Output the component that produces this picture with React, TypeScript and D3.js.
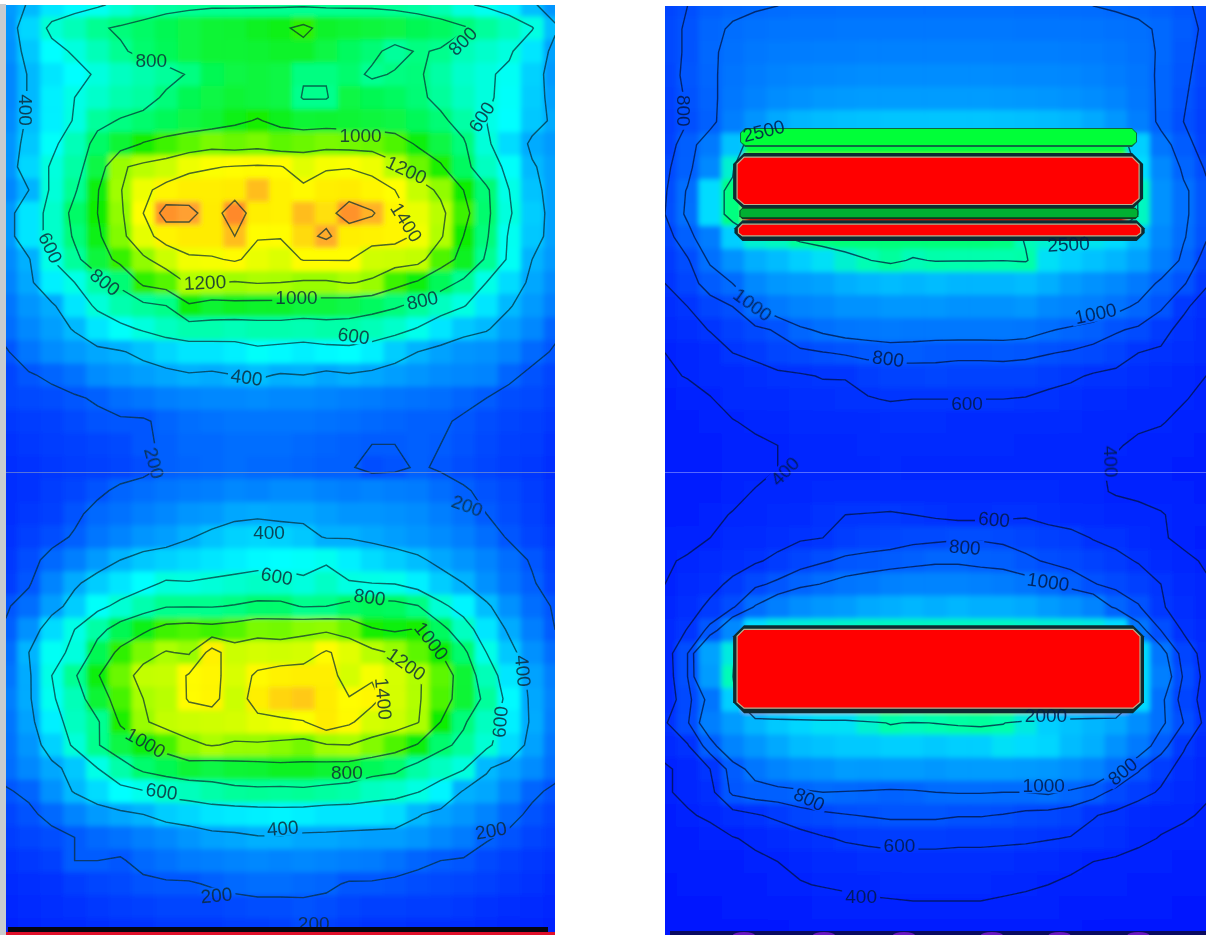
import React from "react";
import * as d3 from "d3";

// Counts are stored in tens (34 = 340 counts). Rows run top to bottom, columns left to right.
const COLS = 25;
const ROWS = 41;
const UNIT = 10;

const leftRows: number[][] = [
  [34,41,50,54,58,64,71,75,77,78,78,78,78,78,78,78,78,77,75,71,62,58,52,42,33],
  [33,47,64,70,78,82,85,88,90,92,93,95,97,104,94,92,91,90,88,86,82,76,70,61,42],
  [32,44,55,62,70,78,84,87,90,92,92,93,94,94,90,86,83,76,81,79,70,66,62,50,36],
  [30,41,50,55,62,68,72,76,81,88,90,91,90,81,81,84,78,81,82,74,66,62,57,46,34],
  [30,41,52,60,66,72,75,82,88,90,92,91,90,79,79,90,88,86,83,76,68,62,56,45,36],
  [31,42,52,61,76,81,84,87,90,92,97,101,96,92,93,92,91,90,87,83,74,60,55,44,38],
  [33,44,56,70,85,92,101,106,110,114,112,114,110,112,114,113,112,108,98,90,82,63,48,38,34],
  [33,47,62,74,90,118,124,128,136,139,141,142,141,133,138,139,136,124,112,102,86,68,56,41,36],
  [30,40,63,78,99,119,136,146,150,150,152,160,148,143,150,152,146,140,127,117,100,83,60,43,36],
  [34,50,66,85,100,117,140,168,165,152,170,150,148,160,154,168,162,146,135,124,106,84,62,45,36],
  [34,50,66,82,97,115,134,147,152,152,160,141,141,155,163,150,148,146,137,122,100,82,58,44,36],
  [31,39,60,76,91,105,117,128,137,138,142,135,132,141,141,141,129,128,126,108,95,78,57,40,34],
  [29,37,52,60,73,83,104,109,122,121,119,121,120,118,118,121,118,106,98,87,77,60,48,37,31],
  [26,33,38,50,63,72,76,80,98,93,95,94,94,91,91,89,86,82,76,68,61,50,41,34,28],
  [24,30,35,41,50,56,62,68,72,72,70,72,72,71,73,73,70,66,59,50,44,41,35,30,22],
  [19,26,31,34,37,39,43,47,50,50,52,56,54,52,54,55,52,45,40,36,33,32,29,23,19],
  [15,19,22,25,31,33,35,37,39,38,40,42,39,40,37,39,37,35,33,31,30,29,22,18,15],
  [15,16,17,19,21,24,26,28,29,30,30,31,30,30,29,28,27,26,25,24,22,20,17,16,14],
  [12,13,14,16,18,19,19,22,24,25,26,26,26,26,25,24,23,22,21,21,19,17,15,14,12],
  [11,12,13,14,15,16,19,21,23,23,24,24,24,23,22,21,20,20,21,20,18,16,14,13,11],
  [10,11,12,13,14,15,17,21,22,23,24,23,23,22,21,21,17,18,21,19,17,15,13,12,10],
  [10,11,13,15,18,22,24,26,27,28,30,29,31,31,29,28,29,28,27,24,21,18,16,13,11],
  [10,12,14,18,23,25,28,30,33,34,37,38,37,37,35,33,33,32,31,28,25,20,17,14,11],
  [11,14,17,21,26,29,33,35,39,43,46,47,46,44,39,39,37,35,33,31,28,24,19,15,12],
  [12,17,23,28,34,40,44,46,48,50,52,54,55,56,58,52,48,45,42,37,33,29,24,19,14],
  [13,19,29,38,45,50,55,62,61,63,65,67,66,62,67,61,60,59,52,45,40,32,26,21,15],
  [19,24,35,45,56,64,72,79,79,79,81,84,84,79,80,85,87,86,81,64,53,42,32,24,19],
  [21,32,48,60,74,88,97,106,108,106,109,114,113,116,117,112,101,98,101,86,68,50,38,28,20],
  [24,40,57,62,88,104,114,121,118,148,128,130,129,130,142,133,124,118,110,100,84,60,44,32,24],
  [26,38,60,78,99,112,126,127,142,146,131,143,148,150,150,130,138,130,122,110,92,70,50,36,28],
  [28,38,58,70,92,107,120,124,142,146,128,150,156,158,152,141,145,130,122,108,92,76,54,37,29],
  [26,36,52,68,78,102,118,126,128,129,130,134,136,139,152,143,130,128,121,100,82,68,52,38,28],
  [25,33,46,63,79,90,99,107,117,121,118,118,116,113,119,120,115,108,99,84,76,64,48,36,26],
  [24,30,37,44,60,73,84,88,92,90,92,93,95,95,93,92,87,84,74,68,62,41,36,31,24],
  [19,22,32,41,48,55,59,66,69,73,76,77,76,77,75,73,68,66,61,53,39,37,30,22,18],
  [15,18,23,29,34,37,40,45,47,50,51,52,53,52,50,50,50,48,41,36,33,29,23,18,15],
  [13,15,17,20,23,25,28,30,33,36,37,39,39,37,37,36,35,35,33,30,27,21,18,15,13],
  [11,12,14,20,20,19,23,25,27,28,29,30,29,30,29,28,27,25,22,20,19,16,14,12,11],
  [9,10,11,13,15,16,18,19,19,21,23,24,24,23,22,19,19,18,17,16,15,14,12,11,9],
  [8,9,10,11,12,13,14,15,15,15,16,17,17,18,17,15,14,14,13,13,12,11,10,9,8],
  [7,8,9,9,10,11,11,12,12,12,13,13,14,16,14,12,11,11,10,10,10,9,8,8,7],
];

const rightRows: number[][] = [
  [72,80,90,96,98,100,102,102,103,103,103,103,103,103,103,103,102,102,101,100,98,96,92,84,74],
  [74,82,96,102,106,108,110,110,112,112,112,112,112,112,112,112,110,110,110,108,106,103,98,88,76],
  [74,82,97,105,112,116,118,120,120,122,122,122,122,122,122,120,120,120,118,116,112,106,98,86,74],
  [72,84,96,108,118,124,128,130,132,134,134,134,134,134,134,132,130,130,128,124,118,110,96,84,72],
  [70,82,94,112,124,134,140,146,148,150,150,150,150,150,150,148,146,144,140,134,126,112,96,82,70],
  [68,80,92,120,142,160,170,175,178,180,182,182,182,182,182,180,178,175,170,160,145,120,94,80,68],
  [70,90,115,180,320,320,320,320,320,320,320,320,320,320,320,320,320,320,320,320,320,190,110,88,70],
  [76,92,130,230,600,600,600,600,600,600,600,600,600,600,600,600,600,600,600,600,600,200,130,95,78],
  [78,102,200,280,600,600,600,600,600,600,600,600,600,600,600,600,600,600,600,600,600,240,140,105,84],
  [80,104,200,280,600,600,600,600,600,600,600,600,600,600,600,600,600,600,600,600,600,240,140,105,84],
  [72,92,118,190,230,240,265,280,285,285,285,285,285,285,285,280,245,230,220,210,200,175,130,102,82],
  [64,78,103,140,165,175,190,205,230,248,262,245,253,252,252,251,255,205,190,180,170,155,120,95,72],
  [60,72,88,100,130,145,150,155,165,170,175,170,175,170,170,170,175,165,150,140,130,115,95,82,62],
  [54,60,72,80,100,115,125,130,140,140,145,145,145,140,140,140,145,130,125,120,107,96,83,63,52],
  [46,52,61,68,76,82,96,104,110,112,115,113,112,112,112,112,110,102,96,90,82,77,65,55,48],
  [40,44,50,60,64,72,76,79,82,86,88,88,86,85,85,86,84,81,78,74,70,60,58,52,46],
  [37,41,46,50,53,56,58,61,61,66,70,70,72,70,70,70,70,67,63,58,55,52,48,44,40],
  [30,33,39,46,48,50,52,54,55,59,61,60,60,60,60,60,59,55,53,50,47,45,43,41,36],
  [26,28,32,39,43,45,47,48,50,50,51,51,51,50,50,50,49,47,46,45,44,42,41,36,32],
  [24,26,29,33,37,40,42,44,45,46,46,46,46,46,46,46,45,44,43,42,41,38,35,31,28],
  [24,26,28,31,35,40,43,44,44,45,46,45,45,45,45,45,44,44,43,42,38,35,33,29,27],
  [25,27,30,35,41,44,45,46,47,47,48,47,47,47,47,47,47,47,45,42,39,37,35,31,28],
  [28,30,36,41,45,47,50,55,60,61,62,60,57,54,54,56,58,54,50,47,45,44,41,36,31],
  [32,35,40,46,50,54,58,60,66,70,72,75,76,78,78,76,72,68,66,59,56,50,42,36,30],
  [38,42,46,52,58,64,72,78,84,86,88,92,96,96,92,90,84,78,74,70,64,59,50,44,38],
  [40,46,54,64,76,84,94,101,108,114,122,125,125,125,122,118,110,100,90,81,75,68,60,50,42],
  [44,52,64,78,102,120,135,145,150,160,165,170,165,170,165,165,160,150,140,125,95,82,62,52,44],
  [48,61,86,130,200,220,225,230,235,240,240,240,240,240,240,240,235,230,225,220,200,110,80,58,46],
  [50,80,155,220,600,600,600,600,600,600,600,600,600,600,600,600,600,600,600,600,600,200,110,72,52],
  [48,80,150,245,600,600,600,600,600,600,600,600,600,600,600,600,600,600,600,600,600,200,120,78,54],
  [46,74,108,190,600,600,600,600,600,600,600,600,600,600,600,600,600,600,600,600,600,200,105,72,52],
  [58,78,120,150,170,185,195,205,205,230,255,245,252,258,262,253,220,190,180,170,160,135,105,80,55],
  [46,58,90,125,145,160,175,180,185,185,190,190,185,190,190,205,200,195,175,165,140,115,88,62,46],
  [38,44,60,88,110,125,135,140,150,148,150,150,145,150,150,150,148,145,135,125,104,82,66,54,42],
  [38,44,54,84,90,92,95,100,98,96,93,95,100,101,101,100,100,103,96,88,74,66,58,50,42],
  [28,38,43,52,58,64,72,76,79,81,83,83,83,81,81,79,75,73,70,61,56,50,45,42,38],
  [24,28,33,39,43,47,52,58,62,64,66,66,66,65,65,64,63,61,59,55,51,44,39,36,33],
  [20,23,26,30,37,40,44,47,50,52,53,53,53,52,52,51,50,48,44,40,37,34,31,28,25],
  [17,19,21,24,28,33,39,41,43,45,46,47,47,47,47,45,43,40,37,34,31,28,26,24,21],
  [15,16,17,19,21,24,28,31,33,35,36,37,37,37,37,35,33,31,28,25,22,20,19,18,16],
  [12,13,14,15,16,18,20,22,24,25,26,26,26,26,26,25,24,22,20,18,17,16,15,14,13],
];

const leftLevels = [200, 400, 600, 800, 1000, 1200, 1400, 1600];
const rightLevels = [400, 600, 800, 1000, 2500];

const leftStops = [0, 200, 400, 550, 800, 1000, 1200, 1400, 1520, 1650, 2000];
const leftColors = ["#0000ff", "#005cff", "#00b4ff", "#00ffff", "#00ff88", "#10ee00", "#a8ff00", "#ffff00", "#ffec00", "#ffa030", "#ff0000"];
const rightStops = [0, 400, 600, 800, 1000, 1500, 2000, 2500, 3200, 5000];
const rightColors = ["#0010ff", "#0024ff", "#0034ff", "#0050ff", "#006cff", "#009cff", "#00dcff", "#00ffb0", "#00ff40", "#ff0000"];

type Label = [string, number, number, number];
// text, column position, row position, rotation
const leftLabels: Label[] = [
  ["800", 6.85, 2.88, 0], ["400", 1.37, 5.04, 90], ["800", 20.46, 2.06, -45], ["600", 21.29, 5.34, -58],
  ["600", 2.44, 11.0, 65], ["1000", 16.0, 6.16, 0], ["1200", 18.0, 7.63, 25], ["1400", 18.0, 9.9, 58],
  ["1200", 9.2, 12.5, -3], ["800", 4.83, 12.48, 38], ["1000", 13.2, 13.17, 0], ["800", 18.7, 13.27, -12],
  ["600", 15.7, 14.81, 8], ["400", 11.02, 16.6, 8], ["200", 7.0, 20.3, 75], ["200", 20.67, 22.13, 20],
  ["400", 12.0, 23.33, 0], ["600", 12.34, 25.2, 10], ["800", 16.4, 26.1, 8], ["1000", 19.1, 28.0, 52],
  ["1200", 18.0, 29.0, 35], ["1400", 17.0, 30.5, 85], ["400", 23.1, 29.3, 85], ["600", 22.1, 31.5, -85],
  ["1000", 6.6, 32.4, 30], ["800", 15.4, 33.7, 0], ["600", 7.3, 34.5, 8], ["400", 12.6, 36.1, -5],
  ["200", 9.7, 39.0, -5], ["200", 21.7, 36.2, -10], ["200", 13.95, 40.2, 0],
];
const rightLabels: Label[] = [
  ["800", 1.33, 5.03, 90], ["2500", 4.88, 5.9, -14], ["2500", 18.4, 10.8, -3], ["1000", 4.4, 13.4, 36],
  ["1000", 19.6, 13.8, -12], ["800", 10.4, 15.75, 8], ["600", 13.9, 17.7, 0], ["400", 5.8, 20.6, -45],
  ["400", 20.3, 20.2, 88], ["600", 15.1, 22.7, 5], ["800", 13.8, 23.9, 5], ["1000", 17.5, 25.4, 8],
  ["2000", 17.4, 31.2, 0], ["1000", 17.3, 34.2, 0], ["800", 6.9, 34.8, 25], ["800", 20.8, 33.6, -40],
  ["600", 10.9, 36.8, 0], ["400", 9.2, 39.0, 0],
];

type Block = { x0: number; x1: number; y0: number; y1: number; fill: string; edge: string; cut: number };
// extents in the same column/row units as the grids
const rightBlocks: Block[] = [
  { x0: 3.83, x1: 21.44, y0: 5.78, y1: 6.6, fill: "#00ff38", edge: "#0a6a40", cut: 5 },
  { x0: 3.52, x1: 21.71, y0: 6.86, y1: 9.3, fill: "#ff0000", edge: "#0a2c30", cut: 11 },
  { x0: 3.8, x1: 21.5, y0: 9.22, y1: 9.72, fill: "#00b030", edge: "#0a3a20", cut: 3 },
  { x0: 3.58, x1: 21.78, y0: 9.76, y1: 10.66, fill: "#ff0000", edge: "#0a2c30", cut: 8 },
  { x0: 3.52, x1: 21.75, y0: 27.28, y1: 31.08, fill: "#ff0000", edge: "#0a2c30", cut: 11 },
];

// centres of the purple bumps along the lower edge of the right panel, in grid columns
const rightEdgeBumps = [4.0, 7.55, 11.1, 15.0, 18.0, 21.5];

function Panel(props: {
  id: string; rows: number[][]; levels: number[]; stops: number[]; colors: string[]; labels: Label[];
  blocks: Block[]; left: number; right: number; top: number; bottom: number; lineColor: string; textColor: string;
}) {
  const { id, rows, levels, stops, colors, labels, blocks, left, right, top, bottom, lineColor, textColor } = props;
  const x = d3.scaleLinear().domain([0.5, COLS - 0.5]).range([left, right]);
  const y = d3.scaleLinear().domain([0.5, ROWS - 0.5]).range([top, top + (925 / 40) * 40]);
  const color = d3.scaleLinear<string>().domain(stops).range(colors).clamp(true);
  const flat = rows.flat().map((v) => v * UNIT);
  const shapes = d3.contours().size([COLS, ROWS]).thresholds(levels)(flat);
  const path = d3.geoPath(
    d3.geoTransform({
      point(this: any, px: number, py: number) {
        this.stream.point(x(px), y(py));
      },
    })
  );
  const fs = 19;
  return (
    <g>
      <defs>
        <clipPath id={`${id}-clip`}>
          <rect x={left} y={top} width={right - left} height={bottom - top} />
        </clipPath>
        <mask id={`${id}-mask`} maskUnits="userSpaceOnUse" x={0} y={0} width={1206} height={935}>
          <rect x={0} y={0} width={1206} height={935} fill="#fff" />
          {labels.map(([t, c, r, a], i) => (
            <rect
              key={i}
              x={-(t.length * fs * 0.56 + 6) / 2}
              y={-8}
              width={t.length * fs * 0.56 + 6}
              height={16}
              fill="#000"
              transform={`translate(${x(c)},${y(r)}) rotate(${a})`}
            />
          ))}
        </mask>
      </defs>
      <g clipPath={`url(#${id}-clip)`}>
        <g filter="url(#soft)">
          <rect x={left - 10} y={top - 10} width={right - left + 20} height={bottom - top + 20} fill={color(rows[20][0] * UNIT)} />
          {rows.map((row, j) =>
            row.map((v, i) => (
              <rect
                key={`${i}-${j}`}
                x={x(i)}
                y={y(j)}
                width={x(i + 1) - x(i) + 0.6}
                height={y(j + 1) - y(j) + 0.6}
                fill={color(v * UNIT)}
              />
            ))
          )}
        </g>
        <g mask={`url(#${id}-mask)`} filter="url(#line)">
          {shapes.map((s) => (
            <path key={s.value} d={path(s as any) || ""} fill="none" stroke={lineColor} strokeOpacity={0.72} strokeWidth={1.4} />
          ))}
        </g>
        <g filter="url(#line)">
          {blocks.map((b, i) => {
            const [a, c, p, q, k] = [x(b.x0), x(b.x1), y(b.y0), y(b.y1), b.cut];
            const pts = [[a + k, p], [c - k, p], [c, p + k], [c, q - k], [c - k, q], [a + k, q], [a, q - k], [a, p + k]];
            const inset = b.cut > 6 ? 4 : 1;
            const inner = [
              [a + k, p + inset], [c - k, p + inset], [c - inset, p + k], [c - inset, q - k],
              [c - k, q - inset - 1], [a + k, q - inset - 1], [a + inset, q - k], [a + inset, p + k],
            ];
            return (
              <g key={i}>
                <polygon points={pts.join(" ")} fill={b.edge} />
                <polygon points={inner.join(" ")} fill={b.fill} stroke={b.cut > 6 ? "#b8b090" : "none"} strokeWidth={1.2} />
              </g>
            );
          })}
        </g>
        <g filter="url(#line)">
          {labels.map(([t, c, r, a], i) => (
            <text
              key={i}
              x={0}
              y={0}
              transform={`translate(${x(c)},${y(r)}) rotate(${a})`}
              textAnchor="middle"
              dominantBaseline="central"
              fontFamily="'Liberation Sans', Arial, sans-serif"
              fontSize={fs}
              fill={textColor}
              fillOpacity={0.85}
            >
              {t}
            </text>
          ))}
        </g>
      </g>
    </g>
  );
}

export default function App() {
  const edge = d3.scaleLinear().domain([0.5, COLS - 0.5]).range([665, 1206]);
  return (
    <svg
      width={1206}
      height={935}
      viewBox="0 0 1206 935"
      style={{ position: "absolute", left: 0, top: 0, display: "block", background: "#fff" }}
    >
      <defs>
        <filter id="soft" x="-5%" y="-5%" width="110%" height="110%">
          <feGaussianBlur stdDeviation="2.6" />
        </filter>
        <filter id="line" x="-5%" y="-5%" width="110%" height="110%">
          <feGaussianBlur stdDeviation="0.5" />
        </filter>
      </defs>
      <rect x={0} y={4} width={6} height={931} fill="#c9cccf" />
      <Panel
        id="left" rows={leftRows} levels={leftLevels} stops={leftStops} colors={leftColors} labels={leftLabels}
        blocks={[]} left={6} right={555} top={5} bottom={935} lineColor="#0a2c34" textColor="#0c2c3a"
      />
      <Panel
        id="right" rows={rightRows} levels={rightLevels} stops={rightStops} colors={rightColors} labels={rightLabels}
        blocks={rightBlocks} left={665} right={1206} top={6} bottom={935} lineColor="#04143c" textColor="#061a48"
      />
      <rect x={8} y={927} width={540} height={5} fill="#050510" />
      <rect x={6} y={932} width={549} height={3} fill="#e0102a" />
      <rect x={670} y={931} width={536} height={4} fill="#0a0a60" />
      {rightEdgeBumps.map((c) => (
        <ellipse key={c} cx={edge(c)} cy={935} rx={11} ry={3} fill="#6a18c0" />
      ))}
      <rect x={6} y={472} width={549} height={1} fill="#9aa8c0" fillOpacity={0.55} />
      <rect x={665} y={472} width={541} height={1} fill="#9aa8ff" fillOpacity={0.55} />
    </svg>
  );
}
